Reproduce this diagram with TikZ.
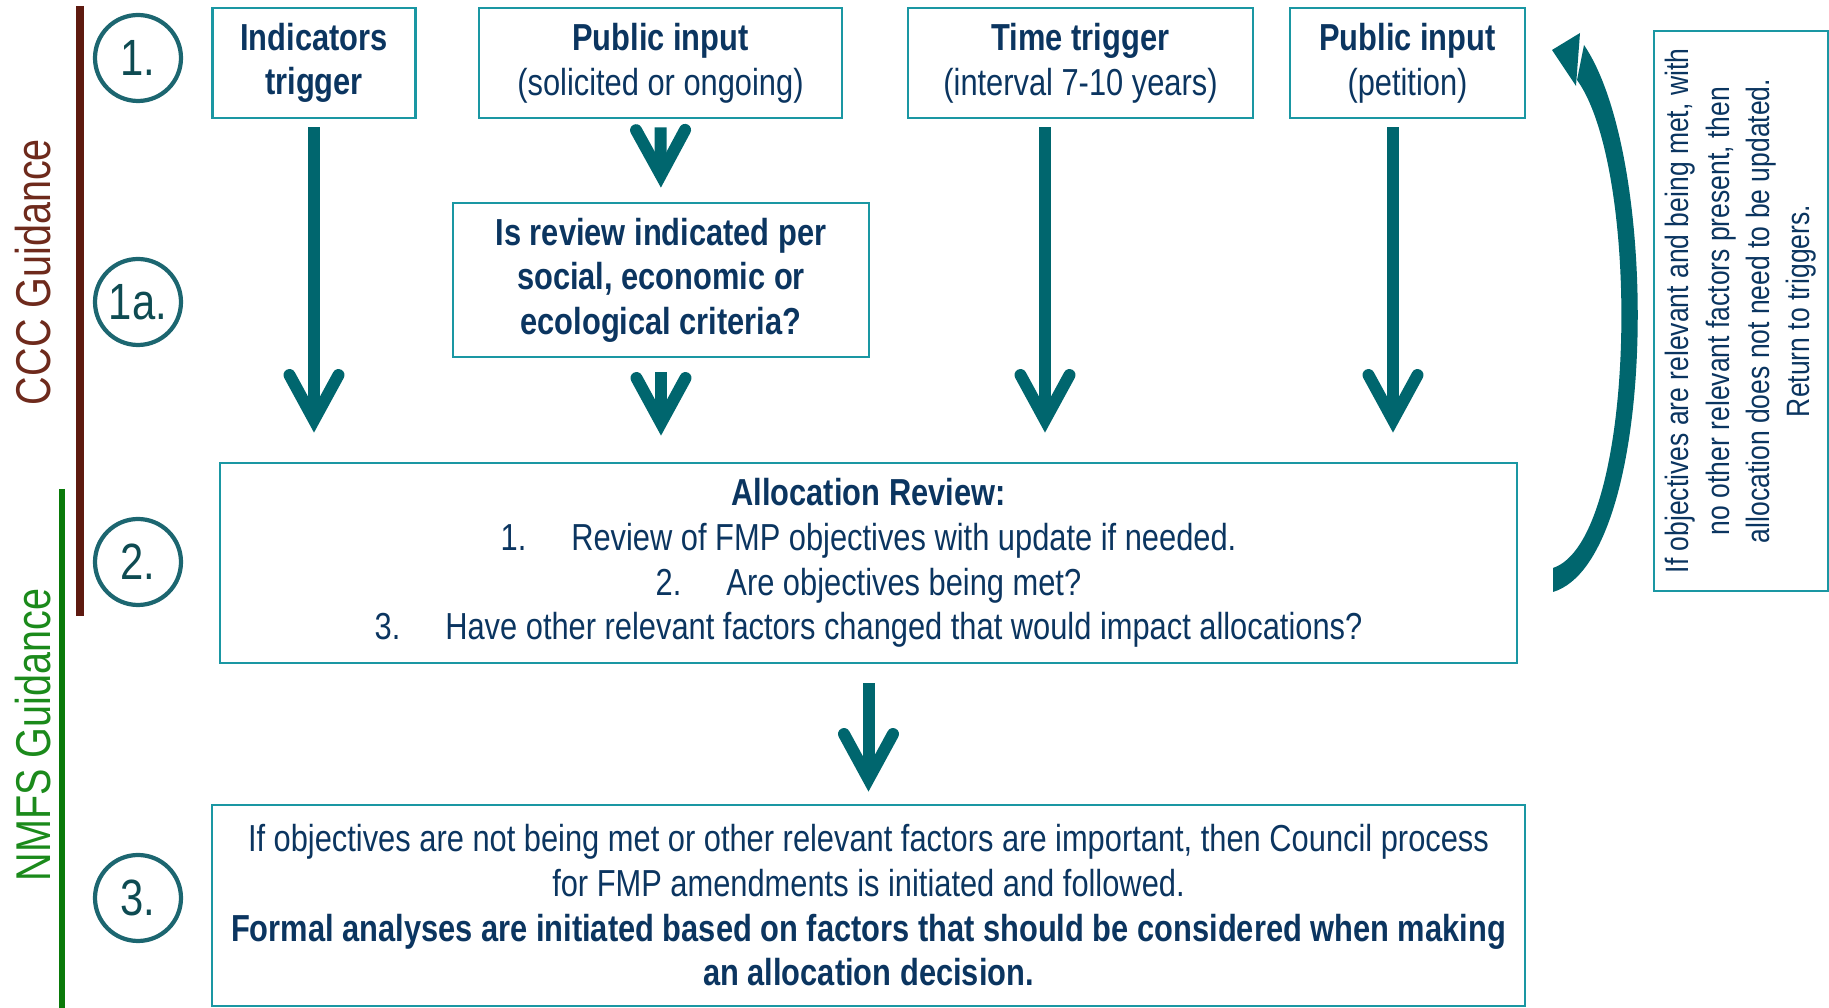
\documentclass[tikz,border=0pt]{standalone}
\usepackage{fontspec}
\setmainfont[FakeStretch=0.82]{Liberation Sans}
\newfontfamily\sidefont[FakeStretch=0.81]{Liberation Sans}
\usetikzlibrary{arrows.meta}
\definecolor{boxteal}{HTML}{1A97A3}
\definecolor{arrowteal}{HTML}{00666E}
\definecolor{ringteal}{HTML}{1C6670}
\definecolor{numteal}{HTML}{0E4B52}
\definecolor{navy}{HTML}{0B3560}
\definecolor{cccbrown}{HTML}{5E1A10}
\definecolor{ccctext}{HTML}{6E2A1C}
\definecolor{nmfsgreen}{HTML}{0A7A0A}
\definecolor{nmfstext}{HTML}{1B8A1B}

\begin{document}
\begin{tikzpicture}[>={Straight Barb[length=4.5mm,width=4.9mm,line join=miter,line cap=round]},
	box/.style={draw=boxteal, line width=0.8pt, text=navy, align=center, inner sep=0pt, font=\fontsize{10.7}{12.7}\selectfont, execute at begin node={\rule{0pt}{12.5pt}}},
	ring/.style={circle, draw=ringteal, line width=1.2pt, minimum size=0.86cm, inner sep=0pt, text=numteal, font=\fontsize{14.5}{14.5}\selectfont},
	bigarrow/.style={->, draw=arrowteal, line width=0.12cm}]
		\useasboundingbox (0,0) rectangle (18.29,-10.08);
		\draw[cccbrown, line width=2pt] (0.80,-0.06) -- (0.80,-6.16);
		\draw[nmfsgreen, line width=1.6pt] (0.62,-4.89) -- (0.62,-10.08);
		\node[rotate=90, text=ccctext, font=\sidefont\fontsize{13.9}{14}\selectfont] (ccc) at (0.33,-2.72) {CCC Guidance};
		\node[rotate=90, text=nmfstext, font=\sidefont\fontsize{13.9}{14}\selectfont] (nmfs) at (0.33,-7.35) {NMFS Guidance};
		\node[ring] (r1) at (1.38,-0.58) {1.};
		\node[ring] (r1a) at (1.38,-3.02) {1a.};
		\node[ring] (r2) at (1.38,-5.62) {2.};
		\node[ring] (r3) at (1.38,-8.98) {3.};
		\node[box, minimum width=2.03cm, minimum height=1.10cm] (ind) at (3.14,-0.63) {\textbf{Indicators}\\\textbf{trigger}};
		\node[box, minimum width=3.63cm, minimum height=1.10cm] (pub) at (6.605,-0.63) {\textbf{Public input}\\(solicited or ongoing)};
		\node[box, minimum width=3.45cm, minimum height=1.10cm] (time) at (10.805,-0.63) {\textbf{Time trigger}\\(interval 7-10 years)};
		\node[box, minimum width=2.35cm, minimum height=1.10cm] (pet) at (14.075,-0.63) {\textbf{Public input}\\(petition)};
		\node[box, minimum width=4.16cm, minimum height=1.54cm] (rev) at (6.61,-2.80) {\textbf{Is review indicated per}\\\textbf{social, economic or}\\\textbf{ecological criteria?}};
		\node[box, minimum width=12.97cm, minimum height=2.00cm] (alloc) at (8.685,-5.63) {\textbf{Allocation Review:}\\1.\hspace{0.45cm}Review of FMP objectives with update if needed.\\2.\hspace{0.45cm}Are objectives being met?\\3.\hspace{0.45cm}Have other relevant factors changed that would impact allocations?};
		\node[box, minimum width=13.13cm, minimum height=2.01cm] (amend) at (8.685,-9.055) {If objectives are not being met or other relevant factors are important, then Council process\\for FMP amendments is initiated and followed.\\\textbf{Formal analyses are initiated based on factors that should be considered when making}\\\textbf{an allocation decision.}};
		\node[box, rotate=90, minimum width=5.60cm, minimum height=1.74cm, font=\fontsize{9.2}{11.5}\selectfont] (note) at (17.41,-3.11) {If objectives are relevant and being met, with\\no other relevant factors present, then\\allocation does not need to be updated.\\Return to triggers.};
		\draw[bigarrow, shorten <=0.08cm, shorten >=0.29cm] (ind.south) -- (ind.south |- alloc.north);
		\draw[bigarrow, shorten <=0.08cm, shorten >=0.14cm] (pub.south) -- (rev.north);
		\draw[bigarrow, shorten <=0.14cm, shorten >=0.26cm] (rev.south) -- (rev.south |- alloc.north);
		\draw[bigarrow, shorten <=0.08cm, shorten >=0.29cm] ([xshift=-0.355cm]time.south) -- ([xshift=-0.355cm]time.south |- alloc.north);
		\draw[bigarrow, shorten <=0.08cm, shorten >=0.29cm] ([xshift=-0.145cm]pet.south) -- ([xshift=-0.145cm]pet.south |- alloc.north);
		\draw[bigarrow, shorten <=0.19cm, shorten >=0.12cm] (alloc.south) -- (amend.north);
		\coordinate (loopbot) at (15.53,-5.80);
		\coordinate (looptip) at (15.52,-0.50);
		\fill[arrowteal] ([yshift=-0.12cm]loopbot) .. controls (16.58,-5.6) and (16.62,-1.6) .. (15.84,-0.45)
			-- (15.77,-0.80) .. controls (16.42,-1.7) and (16.37,-5.4) .. ([yshift=0.12cm]loopbot) -- cycle;
		\fill[arrowteal] (looptip) -- (15.80,-0.33) -- (15.76,-0.86) -- cycle;
	\end{tikzpicture}
\end{document}
